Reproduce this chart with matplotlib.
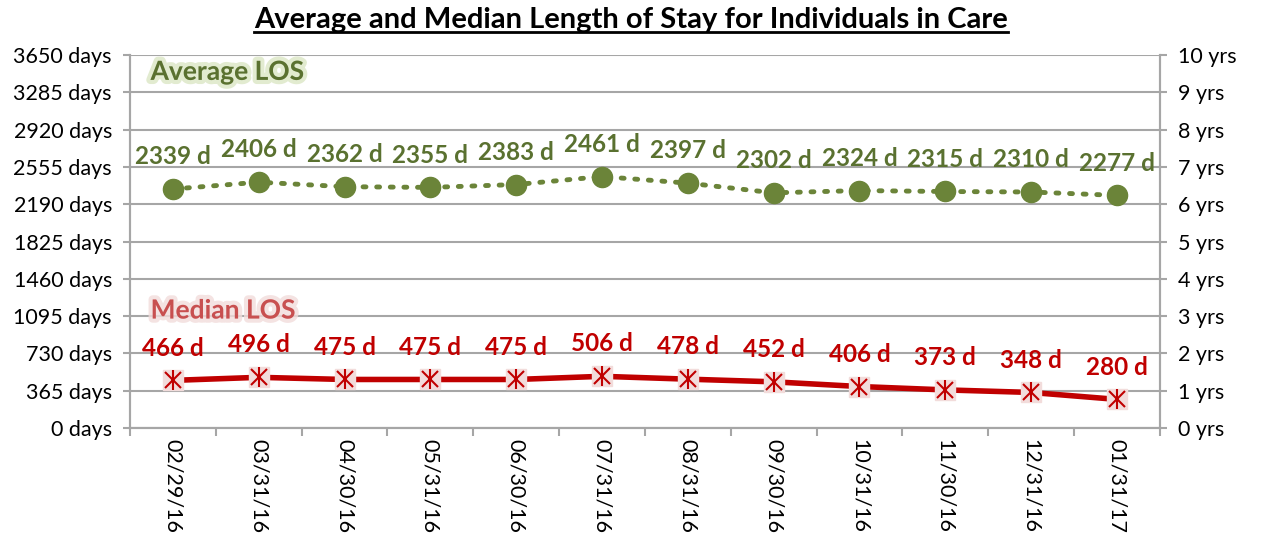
import matplotlib
matplotlib.use("Agg")
import matplotlib.pyplot as plt
import matplotlib.patheffects as pe
from matplotlib.lines import Line2D
import numpy as np

plt.rcParams["font.family"] = ["Lato", "DejaVu Sans"]

dates = ["02/29/16", "03/31/16", "04/30/16", "05/31/16", "06/30/16", "07/31/16",
         "08/31/16", "09/30/16", "10/31/16", "11/30/16", "12/31/16", "01/31/17"]
avg_los = [2339, 2406, 2362, 2355, 2383, 2461, 2397, 2302, 2324, 2315, 2310, 2277]
median_los = [466, 496, 475, 475, 475, 506, 478, 452, 406, 373, 348, 280]
day_ticks = list(range(0, 3651, 365))
year_ticks = list(range(0, 11))

GREEN = "#6B8439"
GREEN_TXT = "#5A7130"
RED = "#C00000"
GRID = "#A6A6A6"

fig = plt.figure(figsize=(12.62, 5.35), dpi=100)
ax = fig.add_axes([0.103, 0.2, 0.816, 0.697])
x = np.arange(len(dates))

# average line
ax.plot(x, avg_los, color=GREEN, linestyle=(0, (0.6, 2.2)), linewidth=3.5,
        dash_capstyle="round", marker="o", markersize=14.5, markerfacecolor=GREEN,
        markeredgecolor=GREEN, zorder=4)
# median line
ax.plot(x, median_los, color=RED, linewidth=4, zorder=4)
ax.plot(x, median_los, linestyle="none", marker="s", markersize=14,
        markerfacecolor="#F2DCDB", markeredgecolor="#F2DCDB", zorder=5)
ax.plot(x, median_los, linestyle="none", marker="x", markersize=11,
        markeredgecolor=RED, markeredgewidth=1.5, zorder=6)
ax.plot(x, median_los, linestyle="none", marker="|", markersize=14,
        markeredgecolor=RED, markeredgewidth=1.5, zorder=6)

for xi, v in zip(x, avg_los):
    ax.annotate(f"{v} d", (xi, v), xytext=(0, 15), textcoords="offset points",
                ha="center", va="bottom", fontsize=17.5, fontweight="bold", color=GREEN_TXT)
for xi, v in zip(x, median_los):
    ax.annotate(f"{v} d", (xi, v), xytext=(0, 15), textcoords="offset points",
                ha="center", va="bottom", fontsize=17.5, fontweight="bold", color=RED)

ax.set_xlim(-0.5, len(dates) - 0.5)
ax.set_ylim(0, 3650)
ax.set_yticks(day_ticks)
ax.set_yticklabels([f"{d} days" for d in day_ticks], fontsize=15.5)
ax.grid(axis="y", color=GRID, linewidth=1.5)
ax.set_axisbelow(True)
ax.set_xticks(x)
ax.set_xticklabels(dates, rotation=270, fontsize=15.5, ha="center", va="top")
ax.tick_params(axis="x", length=0, pad=8)
ax.set_xticks(np.arange(-0.5, len(dates)), minor=True)
ax.tick_params(axis="x", which="minor", length=6, width=1.5, color=GRID)
ax.tick_params(axis="y", length=5, width=1.5, color=GRID, pad=8)
ax.spines["top"].set_visible(False)
for s in ["left", "right", "bottom"]:
    ax.spines[s].set_color(GRID)
    ax.spines[s].set_linewidth(1.5)

ax2 = ax.twinx()
ax2.set_ylim(0, 10)
ax2.set_yticks(year_ticks)
ax2.set_yticklabels([f"{y} yrs" for y in year_ticks], fontsize=15.5)
ax2.tick_params(axis="y", length=5, width=1.5, color=GRID, pad=8)
ax2.spines["top"].set_visible(False)
for s in ["left", "right", "bottom"]:
    ax2.spines[s].set_color(GRID)
    ax2.spines[s].set_linewidth(1.5)

ax.text(0.02, 0.955, "Average LOS", transform=ax.transAxes, fontsize=19,
        fontweight="bold", color=GREEN_TXT, ha="left", va="center",
        path_effects=[pe.withStroke(linewidth=6, foreground="#D6E3BC", alpha=0.7)])
ax.text(0.02, 0.315, "Median LOS", transform=ax.transAxes, fontsize=19,
        fontweight="bold", color="#C85050", ha="left", va="center",
        path_effects=[pe.withStroke(linewidth=6, foreground="#F2DCDB", alpha=0.8)])

title = fig.text(0.5, 0.962, "Average and Median Length of Stay for Individuals in Care",
                 ha="center", va="center", fontsize=21, fontweight="bold", color="black")
fig.canvas.draw()
bb = title.get_window_extent().transformed(fig.transFigure.inverted())
fig.add_artist(Line2D([bb.x0, bb.x1], [bb.y0 + 0.003, bb.y0 + 0.003],
                      transform=fig.transFigure, color="black", linewidth=2))

fig.savefig("out.png", dpi=100, facecolor="white")
